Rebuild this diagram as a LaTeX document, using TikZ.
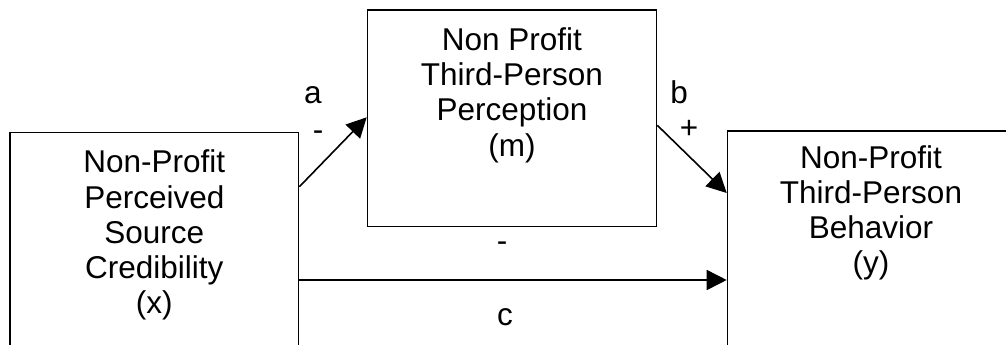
\documentclass[tikz,border=0pt]{standalone}
\usepackage{fontspec}
\setmainfont{Liberation Sans}
\usetikzlibrary{arrows.meta,calc}
\tikzset{
  box/.style={draw=black, line width=1.6pt, fill=none, inner sep=0pt, anchor=north west},
  boxtext/.style={align=center, anchor=north, inner sep=0pt, font=\fontsize{31.5}{35.3}\selectfont},
  lbl/.style={anchor=base, inner sep=0pt, font=\fontsize{31.5}{35.3}\selectfont},
  conn/.style={line width=1.6pt, -{Triangle[length=20pt,width=20pt]}},
}
\begin{document}
\begin{tikzpicture}[x=1pt,y=-1pt]
\useasboundingbox (0,0) rectangle (1006,345);
\clip (0,0) rectangle (1006,345);
% boxes
\node[box, minimum width=288.5pt, minimum height=230pt] (x) at (9.3,131.7) {};
\node[box, minimum width=289pt, minimum height=216.4pt] (m) at (366.7,9.3) {};
\node[box, minimum width=290pt, minimum height=230pt] (y) at (726.7,130) {};
% texts
\node[boxtext] (xt) at ($(x.north)+(0,18)$) {Non-Profit\\Perceived\\Source\\Credibility\\(x)};
\node[boxtext] (mt) at ($(m.north)+(0,18)$) {Non Profit\\Third-Person\\Perception\\(m)};
\node[boxtext] (yt) at ($(y.north west)+(144.3,15)$) {Non-Profit\\Third-Person\\Behavior\\(y)};
% connectors
\coordinate (xa) at ($(x.north east)+(0,55)$);
\coordinate (ma) at ($(m.north west)+(0,108)$);
\coordinate (mb) at ($(m.north east)+(0,116)$);
\coordinate (yb) at ($(y.north west)+(0,63)$);
\coordinate (xc) at ($(x.north east)+(0,148.3)$);
\coordinate (yc) at ($(y.north west)+(0,150)$);
\draw[conn] (xa) -- (ma);
\draw[conn] (mb) -- (yb);
\draw[conn] (xc) -- (yc);
% labels
\node[lbl] (la) at (313,103) {a};
\node[lbl] (lam) at (318,140) {-};
\node[lbl] (lb) at (679,103) {b};
\node[lbl] (lbp) at (689,138) {+};
\node[lbl] (lcm) at (502,251) {-};
\node[lbl] (lc) at (505,325) {c};
\end{tikzpicture}
\end{document}
